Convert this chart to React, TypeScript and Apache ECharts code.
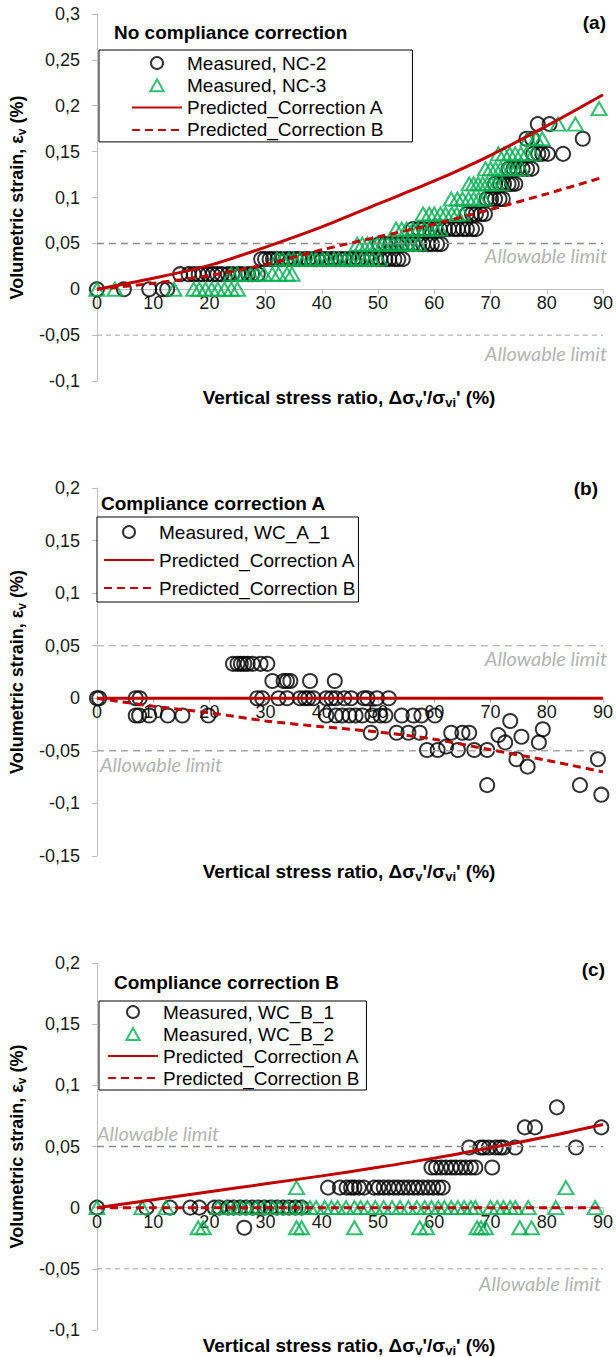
import React, { useEffect, useRef } from "react";
import * as echarts from "echarts";

const FONT = '"Liberation Sans", Arial, Helvetica, sans-serif';

// ---------------- Data ----------------
const xTickStep = 10;
const xRange = [0, 90];
const yTickStep = 0.05;
const yRangeA = [-0.1, 0.3];
const yRangeB = [-0.15, 0.2];
const yRangeC = [-0.1, 0.2];
const allowableLimits = [0.05, -0.05];

// Measured strain levels (quantised by the instrument)
const strainLevels = [0, 0.0164, 0.0328, 0.0492, 0.0656, 0.082, 0.0984, 0.1148, 0.1312, 0.1476, 0.164, 0.18, 0.1968];

// Panel (a): NC-2 x positions, grouped by strain level index
const nc2XByLevel = [
  [0, 4.8, 9.3, 11.7, 12.5],
  [14.8, 16.3, 17.2, 18.1, 18.8, 19.7, 20.6, 21.4, 22.2, 23.3, 24.1, 25.1, 25.8, 26.9, 27.6, 28.6],
  [29.2, 29.9, 30.7, 31.3, 32.1, 32.8, 33.7, 34.4, 35.3, 36.0, 36.9, 37.6, 38.5, 39.2, 40.1, 40.8, 41.7, 42.4, 43.3, 44.0, 44.9, 45.6, 46.5, 47.2, 48.1, 48.8, 49.7, 50.4, 51.3, 52.0, 52.9, 53.6, 54.4],
  [50.2, 51.3, 52.2, 53.3, 54.2, 55.1, 56.2, 57.3, 58.0, 58.9, 59.6, 60.5, 61.2],
  [56.2, 57.3, 58.2, 59.3, 60.2, 61.0, 61.9, 62.6, 63.5, 64.2, 65.1, 65.8, 66.7, 67.4],
  [65.8, 66.7, 67.4, 68.3, 69.0],
  [69.3, 70.1, 70.8, 71.6, 72.2],
  [70.8, 71.7, 72.4, 73.2, 73.8, 74.4],
  [73.2, 74.1, 74.8, 75.7, 76.5, 77.3],
  [77.6, 78.5, 79.2, 80.2, 82.9],
  [76.4, 77.4, 86.4],
  [78.4, 80.5],
  [],
];

// Panel (a): NC-3 x positions, grouped by strain level index
const nc3XByLevel = [
  [0, 3.2, 13.7, 17.2, 18.2, 19.3, 20.4, 21.5, 22.7, 23.9, 25.0],
  [23.9, 25.0, 26.2, 27.4, 28.5, 29.7, 31.2, 32.3, 33.8, 34.7],
  [32.0, 33.0, 34.1, 35.0, 36.1, 37.0, 38.2, 39.0, 40.1, 41.0, 42.2, 43.0, 44.1, 45.0, 46.0, 47.1, 48.0, 49.0, 50.2],
  [46.3, 47.2, 48.1, 49.0, 49.9, 50.8, 51.7, 52.6, 53.5, 54.4, 55.3, 56.2, 57.2],
  [53.2, 54.2, 55.1, 56.2, 57.1, 58.2, 59.1, 60.2, 61.0],
  [58.0, 59.1, 60.0, 61.1, 62.0, 63.1, 64.0, 65.0],
  [63.0, 64.1, 65.0, 66.1, 67.0, 67.9, 68.8],
  [66.2, 67.0, 67.8, 68.6, 69.4, 70.2, 71.0, 72.0],
  [69.1, 70.0, 70.9, 71.8, 72.7, 73.6, 74.5, 75.5],
  [71.4, 72.4, 73.4, 74.4, 75.4, 76.4, 77.6],
  [76.7, 78.1, 79.2],
  [82.0, 85.1],
  [89.3],
];

// Predicted curves
const predX = [0, 10, 20, 30, 40, 50, 60, 70, 80, 90];
const predA_a = [0, 0.012, 0.026, 0.046, 0.068, 0.093, 0.118, 0.146, 0.178, 0.212];
const predB_a = [0, 0.0065, 0.015, 0.027, 0.043, 0.057, 0.071, 0.087, 0.104, 0.122];

// Panel (b): WC_A_1 x positions at strain levels
const wcA1LevelValues = [0.0328, 0.0164, 0, -0.0164, -0.0328, -0.0492];
const wcA1XByLevel = [
  [24.2, 25.0, 25.6, 26.2, 26.8, 27.7, 29.1, 30.3],
  [31.2, 33.2, 33.8, 34.4, 37.9, 42.3],
  [0, 0.4, 6.9, 7.6, 28.5, 29.4, 32.3, 33.8, 36.1, 37.0, 37.6, 38.5, 40.8, 41.7, 42.5, 44.0, 45.2, 47.5, 48.1, 49.8, 51.9],
  [6.9, 7.5, 9.3, 12.6, 15.2, 19.8, 40.8, 42.5, 43.6, 44.9, 46.0, 47.2, 49.0, 50.4, 51.3, 54.2, 56.3, 57.7, 60.1],
  [48.7, 53.3, 55.4, 57.4, 63.0, 65.0, 66.2],
  [58.7, 60.6, 64.2, 67.1, 69.4],
];
const wcA1Other: [number, number][] = [
  [62.1, -0.046], [73.5, -0.0216], [71.4, -0.035], [72.6, -0.042], [75.5, -0.0366],
  [79.3, -0.0295], [78.6, -0.042], [74.6, -0.058], [76.6, -0.065], [69.4, -0.0826],
  [85.9, -0.0826], [89.1, -0.058], [89.7, -0.0917],
];
const predA_b = [0, 0, 0, 0, 0, 0, 0, 0, 0, 0];
const predB_b = [0, -0.0075, -0.0138, -0.0215, -0.027, -0.032, -0.039, -0.049, -0.059, -0.07];

// Panel (c): WC_B_1 at strain levels
const wcB1LevelValues = [-0.0164, 0, 0.0164, 0.0328, 0.0492, 0.0656, 0.082];
const wcB1XByLevel = [
  [26.2],
  [0, 8.8, 13.0, 16.6, 18.2, 20.9, 21.8, 23.3, 24.3, 25.4, 26.5, 27.6, 28.7, 29.8, 30.9, 32.0, 33.1, 34.2, 35.3, 36.4],
  [41.1, 43.2, 44.4, 45.2, 45.8, 46.6, 47.5, 49.3, 50.1, 51.0, 51.9, 52.8, 53.6, 54.5, 55.4, 56.3, 57.1, 58.0, 58.9, 59.8, 60.7, 61.5],
  [59.5, 60.3, 61.2, 62.1, 63.0, 63.8, 64.7, 65.6, 66.5, 67.3, 70.3],
  [66.2, 68.2, 68.8, 69.7, 70.9, 71.7, 72.3, 74.4, 85.2],
  [76.1, 77.9, 89.7],
  [81.8],
];
// Panel (c): WC_B_2 at strain levels
const wcB2LevelValues = [-0.0164, 0, 0.0164];
const wcB2XByLevel = [
  [18.0, 18.9, 35.5, 36.4, 45.8, 57.4, 58.6, 67.6, 68.3, 69.1, 75.2, 77.3],
  [0, 8.0, 12.3, 21.5, 23.0, 24.5, 25.6, 26.8, 28.3, 29.7, 31.2, 32.3, 33.8, 35.3, 36.7, 37.9, 39.0, 40.5, 41.7, 42.8, 44.3, 45.8, 46.9, 48.1, 49.5, 51.0, 52.5, 53.9, 55.4, 56.9, 58.3, 59.5, 60.7, 61.8, 63.0, 64.2, 65.3, 66.5, 67.3, 70.0, 71.2, 72.3, 73.5, 74.4, 76.7, 81.6, 88.6],
  [35.5, 83.4],
];
const predA_c = [0, 0.0065, 0.013, 0.0195, 0.026, 0.033, 0.0405, 0.049, 0.058, 0.068];
const predB_c = [0, 0, 0, 0, 0, 0, 0, 0, 0, 0];

const legendA = ["Measured, NC-2", "Measured, NC-3", "Predicted_Correction A", "Predicted_Correction B"];
const legendB = ["Measured, WC_A_1", "Predicted_Correction A", "Predicted_Correction B"];
const legendC = ["Measured, WC_B_1", "Measured, WC_B_2", "Predicted_Correction A", "Predicted_Correction B"];

const panelTitles = ["No compliance correction", "Compliance correction A", "Compliance correction B"];
const panelTags = ["(a)", "(b)", "(c)"];
const limitText = "Allowable limit";

// ---------------- Helpers ----------------
const byLevel = (levels: number[], xs: number[][]) => {
  const out: [number, number][] = [];
  xs.forEach((row, i) => row.forEach((x) => out.push([x, levels[i]])));
  return out;
};
const zipXY = (xs: number[], ys: number[]) => xs.map((x, i) => [x, ys[i]]);

const RED = "#C00000";
const GREEN = "#00B050";
const TRIANGLE_ICON = "path://M5,0L10,9L0,9Z";

const circleSeries = (name: string, data: any[], idx: number) => ({
  type: "scatter", name, data, xAxisIndex: idx, yAxisIndex: idx,
  symbol: "circle", symbolSize: 14, silent: true,
  itemStyle: { color: "rgba(0,0,0,0)", borderColor: "#000", borderWidth: 2 },
});
const triSeries = (name: string, data: any[], idx: number) => ({
  type: "scatter", name, data, xAxisIndex: idx, yAxisIndex: idx,
  symbol: "triangle", symbolSize: [15, 13], silent: true,
  itemStyle: { color: "rgba(0,0,0,0)", borderColor: GREEN, borderWidth: 2 },
});
const predSeries = (name: string, ys: number[], idx: number, dashed: boolean) => ({
  type: "line", name, data: zipXY(predX, ys), xAxisIndex: idx, yAxisIndex: idx,
  symbol: "none", smooth: 0.3, silent: true,
  lineStyle: { color: RED, width: 3, type: dashed ? [8, 5] : "solid" },
  itemStyle: { color: RED },
});
const limitSeries = (y: number, idx: number, color: string, width: number, dash: number[]) => ({
  type: "line", data: [[xRange[0], y], [xRange[1], y]], xAxisIndex: idx, yAxisIndex: idx,
  symbol: "none", silent: true,
  lineStyle: { color, width, type: dash },
});

const fmtY = (v: number) => String(parseFloat(v.toFixed(3))).replace(".", ",");

const GRID_LEFT = 92;
const GRID_W = 514;
const grids = [
  { top: 14, height: 367 },
  { top: 488, height: 368 },
  { top: 963, height: 367 },
];
const yRanges = [yRangeA, yRangeB, yRangeC];

// x axis drawn along the zero line of its y axis (offset up from the grid bottom)
const xMain = (i: number) => {
  const r = yRanges[i];
  const zeroFromBottom = (grids[i].height * (0 - r[0])) / (r[1] - r[0]);
  return {
    type: "value", gridIndex: i, min: xRange[0], max: xRange[1], interval: xTickStep,
    position: "bottom", offset: -zeroFromBottom,
    axisLine: { show: true, onZero: false, lineStyle: { color: "#bfbfbf", width: 1 } },
    axisTick: { show: true, length: 5, lineStyle: { color: "#bfbfbf" } },
    axisLabel: { fontSize: 18, fontFamily: FONT, color: "#1a1a1a", margin: 5 },
    splitLine: { show: false },
  };
};
const richSubAxis = {
  b: { fontSize: 18, fontWeight: "bold", fontFamily: FONT, color: "#000" },
  s: { fontSize: 12, fontWeight: "bold", fontFamily: FONT, color: "#000", padding: [10, 0, 0, 0] },
};
const yAxis = (i: number) => ({
  type: "value", gridIndex: i, min: yRanges[i][0], max: yRanges[i][1], interval: yTickStep,
  axisLine: { show: true, onZero: false, lineStyle: { color: "#bfbfbf", width: 1 } },
  axisTick: { show: true, length: 5, lineStyle: { color: "#bfbfbf" } },
  axisLabel: { fontSize: 18, fontFamily: FONT, color: "#1a1a1a", margin: 17, formatter: fmtY },
  splitLine: { show: false },
  name: "{b|Volumetric strain, ε}{s|v}{b| (%)}",
  nameLocation: "middle", nameRotate: 90, nameGap: 62,
  nameTextStyle: { fontSize: 18, fontWeight: "bold", fontFamily: FONT, color: "#000", rich: richSubAxis },
});

const legendData = (names: string[]) =>
  names.map((n) => {
    if (n.indexOf("Predicted") === 0) return { name: n, itemStyle: { opacity: 0 } };
    if (n === "Measured, NC-3" || n === "Measured, WC_B_2") return { name: n, icon: TRIANGLE_ICON };
    return { name: n };
  });

const legend = (left: number, top: number, padding: number[], itemGap: number, names: string[]) => ({
  orient: "vertical", left, top, padding, itemGap, itemWidth: 50, itemHeight: 12,
  symbolKeepAspect: true,
  borderColor: "#000", borderWidth: 1, backgroundColor: "#fff", selectedMode: false,
  textStyle: { fontSize: 19, fontFamily: FONT, color: "#000" },
  data: legendData(names),
});

const txt = (x: number, y: number, text: string, font: string, fill: string, align: string) => ({
  type: "text", x, y, silent: true,
  style: { text, font, fill, align, verticalAlign: "middle", legacy: false },
});
const xTitleText = (x: number, y: number) => ({
  type: "text", x, y, silent: true,
  style: {
    legacy: false,
    text: "{b|Vertical stress ratio, Δσ}{s|v}{b|'/σ}{s|vi}{b|' (%)}",
    font: `bold 19px ${FONT}`, fill: "#000", align: "center", verticalAlign: "middle",
    rich: {
      b: { font: `bold 19px ${FONT}`, fill: "#000" },
      s: { font: `bold 13px ${FONT}`, fill: "#000", padding: [10, 0, 0, 0] },
    },
  },
});

const TITLE_FONT = `bold 19px ${FONT}`;
const LIMIT_FONT = `italic 20px Lato, ${FONT}`;
const LIMIT_COLOR = "#b4b4b4";

export default function App() {
  const ref = useRef<HTMLDivElement>(null);
  useEffect(() => {
    if (!ref.current) return;
    const chart = echarts.init(ref.current, undefined, { renderer: "svg" });
    const option: any = {
      animation: false,
      backgroundColor: "#fff",
      textStyle: { fontFamily: FONT },
      grid: grids.map((g) => ({ left: GRID_LEFT, width: GRID_W, top: g.top, height: g.height })),
      xAxis: [xMain(0), xMain(1), xMain(2)],
      yAxis: [yAxis(0), yAxis(1), yAxis(2)],
      legend: [
        legend(99, 50, [3.5, 29, 2.5, 32], 3.3, legendA),
        legend(97, 517, [5.5, 3, 4.5, 6], 9, legendB),
        legend(99, 1001, [1.5, 7, 2.5, 8], 3, legendC),
      ],
      series: [
        // panel (a)
        limitSeries(allowableLimits[0], 0, "#8c8c8c", 1.5, [7, 5]),
        limitSeries(allowableLimits[1], 0, "#a0a0a0", 1, [5, 4]),
        circleSeries(legendA[0], byLevel(strainLevels, nc2XByLevel), 0),
        triSeries(legendA[1], byLevel(strainLevels, nc3XByLevel), 0),
        predSeries("Predicted_Correction A", predA_a, 0, false),
        predSeries("Predicted_Correction B", predB_a, 0, true),
        // panel (b)
        limitSeries(allowableLimits[0], 1, "#bfbfbf", 1.5, [7, 5]),
        limitSeries(allowableLimits[1], 1, "#a6a6a6", 1.5, [7, 5]),
        circleSeries(legendB[0], byLevel(wcA1LevelValues, wcA1XByLevel).concat(wcA1Other), 1),
        predSeries("Predicted_Correction A", predA_b, 1, false),
        predSeries("Predicted_Correction B", predB_b, 1, true),
        // panel (c)
        limitSeries(allowableLimits[0], 2, "#8c8c8c", 1.5, [7, 5]),
        limitSeries(allowableLimits[1], 2, "#a0a0a0", 1, [5, 4]),
        circleSeries(legendC[0], byLevel(wcB1LevelValues, wcB1XByLevel), 2),
        triSeries(legendC[1], byLevel(wcB2LevelValues, wcB2XByLevel), 2),
        predSeries("Predicted_Correction A", predA_c, 2, false),
        predSeries("Predicted_Correction B", predB_c, 2, true),
      ],
      graphic: [
        txt(114, 32, panelTitles[0], TITLE_FONT, "#000", "left"),
        txt(606, 22, panelTags[0], TITLE_FONT, "#000", "right"),
        txt(607, 255, limitText, LIMIT_FONT, LIMIT_COLOR, "right"),
        txt(607, 353, limitText, LIMIT_FONT, LIMIT_COLOR, "right"),
        xTitleText(349, 397),
        txt(101, 503, panelTitles[1], TITLE_FONT, "#000", "left"),
        txt(598, 488, panelTags[1], TITLE_FONT, "#000", "right"),
        txt(607, 658, limitText, LIMIT_FONT, LIMIT_COLOR, "right"),
        txt(100, 764, limitText, LIMIT_FONT, LIMIT_COLOR, "left"),
        xTitleText(349, 871),
        txt(114, 982, panelTitles[2], TITLE_FONT, "#000", "left"),
        txt(605, 969, panelTags[2], TITLE_FONT, "#000", "right"),
        txt(97, 1133, limitText, LIMIT_FONT, LIMIT_COLOR, "left"),
        txt(601, 1283, limitText, LIMIT_FONT, LIMIT_COLOR, "right"),
        xTitleText(349, 1345),
      ],
    };
    chart.setOption(option);
    return () => chart.dispose();
  }, []);
  return (
    <div
      ref={ref}
      style={{ position: "absolute", left: 0, top: 0, width: 616, height: 1357, background: "#fff" }}
    />
  );
}
